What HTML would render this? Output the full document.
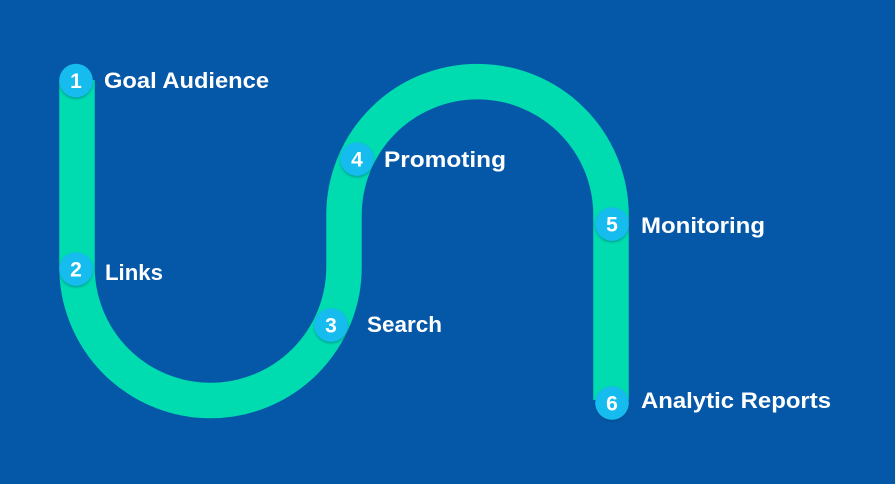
<!DOCTYPE html>
<html>
<head>
<meta charset="utf-8">
<style>
  html, body { margin: 0; padding: 0; background: #0558a8; }
  body { width: 895px; height: 484px; overflow: hidden; }
  svg { display: block; }
  .lbl { font-family: "Liberation Sans", sans-serif; font-weight: bold; font-size: 22.5px; fill: #ffffff; }
  .num { font-family: "Liberation Sans", sans-serif; font-weight: bold; font-size: 21px; fill: #ffffff; text-anchor: middle; }
</style>
</head>
<body>
<svg width="895" height="484" viewBox="0 0 895 484" xmlns="http://www.w3.org/2000/svg">
  <defs>
    <filter id="sh" x="-50%" y="-50%" width="200%" height="200%">
      <feDropShadow dx="0" dy="1.5" stdDeviation="1" flood-color="#003060" flood-opacity="0.35"/>
    </filter>
  </defs>
  <rect width="895" height="484" fill="#0558a8"/>
  <path d="M 77 80 V 267 A 133.5 133.5 0 0 0 344 267 V 215 A 133.5 133.5 0 0 1 611 215 V 400"
        fill="none" stroke="#00dbb0" stroke-width="35.5"/>

  <g filter="url(#sh)" fill="#13bcee">
    <circle cx="76" cy="80.5" r="16.8"/>
    <circle cx="76" cy="269" r="16.8"/>
    <circle cx="331" cy="325" r="16.8"/>
    <circle cx="357" cy="159" r="16.8"/>
    <circle cx="612" cy="224" r="16.8"/>
    <circle cx="612" cy="403" r="16.8"/>
  </g>

  <text class="num" x="76" y="88">1</text>
  <text class="num" x="76" y="276.5">2</text>
  <text class="num" x="331" y="332.5">3</text>
  <text class="num" x="357" y="166.5">4</text>
  <text class="num" x="612" y="231.5">5</text>
  <text class="num" x="612" y="410.5">6</text>

  <text class="lbl" x="104" y="88" textLength="165" lengthAdjust="spacingAndGlyphs">Goal Audience</text>
  <text class="lbl" x="105" y="280" textLength="58" lengthAdjust="spacingAndGlyphs">Links</text>
  <text class="lbl" x="367" y="332" textLength="75" lengthAdjust="spacingAndGlyphs">Search</text>
  <text class="lbl" x="384" y="167" textLength="122" lengthAdjust="spacingAndGlyphs">Promoting</text>
  <text class="lbl" x="641" y="233" textLength="124" lengthAdjust="spacingAndGlyphs">Monitoring</text>
  <text class="lbl" x="641" y="408" textLength="190" lengthAdjust="spacingAndGlyphs">Analytic Reports</text>
</svg>
</body>
</html>
